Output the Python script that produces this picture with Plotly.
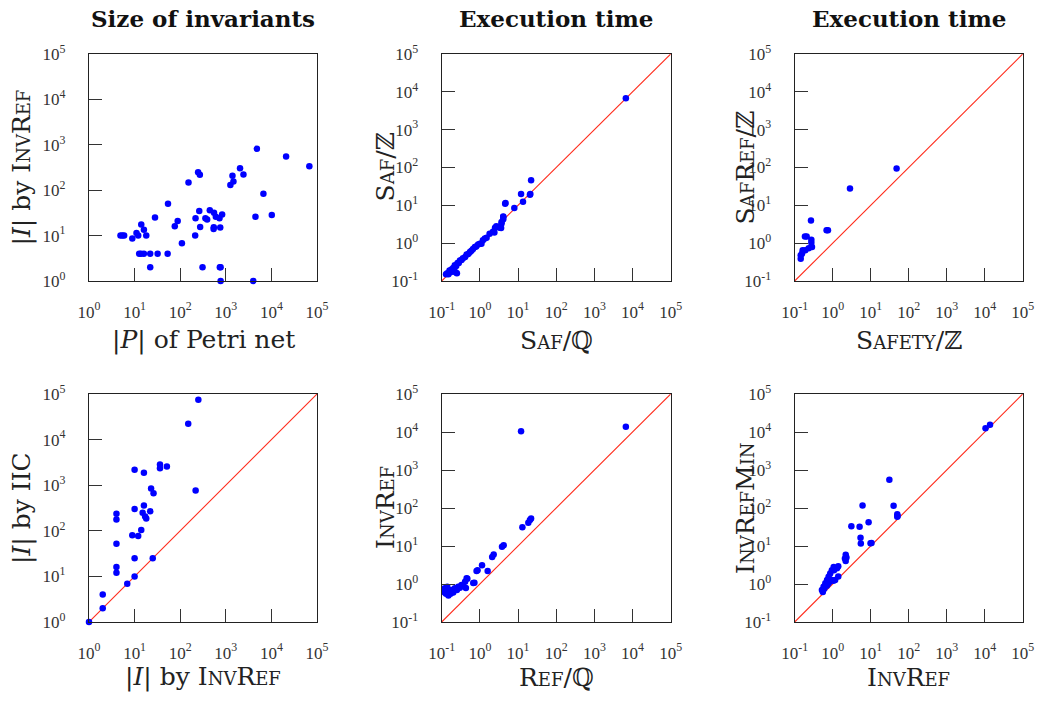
import plotly.graph_objects as go

W, H = 1041, 702

# ---------------- data ----------------
p1_x = [4.9, 5.4, 5.9, 8.9, 11, 12, 14, 16, 18, 28, 54, 76, 88, 109, 152, 247, 270, 217, 213, 262,
        274, 357, 390, 446, 552, 545, 540, 604, 727, 830, 755, 1260, 1400, 1470, 2050, 2440, 4800,
        6680, 4470, 10200, 21000, 68000, 12.6, 13.8, 16, 22, 32, 53, 22, 309, 740, 770, 770, 4000]
p1_y = [10, 10, 10, 8.6, 11.4, 10, 17.5, 13.5, 10, 25, 50, 16, 21, 6.8, 148, 250, 218, 24, 10, 35,
        15.5, 24, 22.6, 36, 32, 15.3, 14, 26, 24, 29, 15, 131, 208, 156, 305, 223, 815,
        83, 26, 28.6, 553, 339, 4, 4, 4, 4, 4, 4, 2, 2, 2, 2, 1, 1]

p2_x = [6680, 22, 21, 20.5, 12, 13.5, 8, 4.7, 4.1, 4.1, 3.7, 3.6, 2.7, 2.4, 2.2, 1.5, 1.1,
        0.13, 0.14, 0.15, 0.16, 0.17, 0.18, 0.2, 0.21, 0.22, 0.24, 0.26, 0.28, 0.3, 0.33, 0.36,
        0.41, 0.45, 0.5, 0.55, 0.6, 0.66, 0.74, 0.8, 0.9, 1.0, 1.2, 1.35, 1.8, 2.5, 3.3, 3.7,
        4.1, 4.6, 0.25, 0.23]
p2_y = [6800, 46, 20, 19, 20, 12.4, 8.5, 11.5, 5.1, 4.3, 3.6, 2.5, 2.8, 1.9, 2.0, 1.4, 0.97,
        0.15, 0.16, 0.15, 0.19, 0.17, 0.2, 0.22, 0.19, 0.26, 0.25, 0.3, 0.3, 0.35, 0.36, 0.4,
        0.43, 0.5, 0.52, 0.58, 0.63, 0.7, 0.79, 0.82, 0.92, 0.97, 1.2, 1.32, 1.78, 2.57, 2.57, 3.3,
        4.9, 11, 0.16, 0.17]

p3_x = [48, 2.85, 0.75, 0.69, 0.268, 0.206, 0.186, 0.274, 0.274, 0.285, 0.233, 0.19, 0.162,
        0.144, 0.144, 0.156]
p3_y = [94, 28, 2.18, 2.18, 3.98, 1.51, 1.51, 1.24, 1.03, 0.79, 0.73, 0.645, 0.645,
        0.476, 0.39, 0.53]

p4_x = [1, 2, 2, 4, 4, 4, 4, 4, 6.9, 10, 10, 8.9, 12, 14, 10, 10, 15, 16, 17, 18, 22, 23, 26,
        25, 16, 36, 36, 51, 150, 250, 218]
p4_y = [1, 2, 4, 12, 16, 52, 178, 237, 6.9, 10, 25, 80, 77, 104, 300, 2180, 250, 360, 205, 187,
        270, 850, 670, 25, 1870, 2360, 2830, 2570, 22300, 74600, 763]

p5_x = [6680, 12, 22, 20.5, 18.6, 13, 4.2, 3.8, 2.3, 2.1, 1.6, 1.14, 0.87, 0.82, 0.72, 0.47,
        0.43, 0.45, 0.41, 0.67, 0.33, 0.27, 0.22, 0.18, 0.15, 0.12, 0.13, 0.15, 0.17, 0.12, 0.2,
        0.25, 0.3, 0.36, 0.14]
p5_y = [13800, 10500, 53, 48, 41, 31, 10.5, 9.5, 6, 5.1, 2.2, 3.1, 2.3, 2.2, 1.08, 1.37,
        0.78, 1.41, 1.15, 1.07, 0.94, 0.85, 0.77, 0.69, 0.63, 0.77, 0.55, 0.5, 0.55, 0.6, 0.6,
        0.7, 0.8, 0.9, 0.85]

p6_x = [13800, 10500, 31, 6.1, 40, 50, 50, 51, 8.8, 3.1, 5.1, 5.4, 5.5, 9.9, 10.5, 2.2, 2.3, 2.2,
        1.4, 1.4, 1.08, 1.04, 0.52, 0.55, 0.575, 0.64, 0.71, 0.78, 0.86, 0.95, 1.06, 1.3, 1.16,
        2.1, 0.6, 0.7, 0.8, 0.9, 0.75, 0.85]
p6_y = [15600, 12600, 550, 117, 114, 68, 59, 62, 42, 33, 32, 16.6, 11.7, 11.9, 12, 5.9, 5, 4,
        2.95, 1.58, 2.3, 1.22, 0.69, 0.62, 0.85, 1.04, 1.27, 1.55, 1.9, 2.3, 2.8, 2.6, 1.27,
        4.7, 0.75, 0.9, 1.1, 1.3, 1.0, 1.2]

range_a = [0, 5]    # log10 range, panels 1 and 4
range_b = [-1, 5]   # log10 range, other panels

titles = ["Size of invariants", "Execution time", "Execution time"]


def sc(s, size=18):
    return '<span style="font-size:%dpx">%s</span>' % (size, s)


xlabels = ['|<i>P</i>| of Petri net', 'S' + sc('AF') + '/ℚ', 'S' + sc('AFETY') + '/ℤ',
           '|<i>I</i>| by I' + sc('NV') + 'R' + sc('EF'), 'R' + sc('EF') + '/ℚ',
           'I' + sc('NV') + 'R' + sc('EF')]
ylabels = ['|<i>I</i>| by I' + sc('NV') + 'R' + sc('EF'), 'S' + sc('AF') + '/ℤ',
           'S' + sc('AF') + 'R' + sc('EF') + '/ℤ', '|<i>I</i>| by IIC',
           'I' + sc('NV') + 'R' + sc('EF'),
           'I' + sc('NV') + 'R' + sc('EF') + 'M' + sc('IN')]

panels = [(p1_x, p1_y, range_a, False), (p2_x, p2_y, range_b, True), (p3_x, p3_y, range_b, True),
          (p4_x, p4_y, range_a, True), (p5_x, p5_y, range_b, True), (p6_x, p6_y, range_b, True)]

# ---------------- layout geometry (pixels) ----------------
col_px = [(89, 317), (441.7, 670.7), (794.7, 1022.7)]
row_px = [(54, 281), (394, 622)]
ylab_x = [22, 385, 745]
xlab_y = [340, 677]
title_y = 18


def px(v):
    return v / W


def py(v):
    return 1 - v / H


fig = go.Figure()
layout = dict(width=W, height=H, margin=dict(l=0, r=0, t=0, b=0, autoexpand=False),
              paper_bgcolor="white", plot_bgcolor="white", showlegend=False)

TICKFONT = dict(family="Liberation Serif", size=17, color="#333")
LABFONT = dict(family="DejaVu Serif", size=25, color="#222")

annotations = []
for i, (xs, ys, rng, diag) in enumerate(panels):
    r, c = divmod(i, 3)
    n = i + 1
    xa = "x" if n == 1 else "x%d" % n
    ya = "y" if n == 1 else "y%d" % n
    x0, x1 = col_px[c]
    y0, y1 = row_px[r]
    exps = list(range(rng[0], rng[1] + 1))
    tv = [10 ** e for e in exps]
    tt = ["10<sup>%d</sup>" % e for e in exps]
    common = dict(type="log", range=rng, tickvals=tv, ticktext=tt, ticks="inside", ticklen=13,
                  tickwidth=1.2, tickcolor="#333", showline=True, linecolor="#222", linewidth=1.4,
                  mirror=True, showgrid=False, zeroline=False, tickfont=TICKFONT,
                  automargin=False)
    layout["xaxis" if n == 1 else "xaxis%d" % n] = dict(
        domain=[px(x0), px(x1)], anchor=ya, ticklabelstandoff=15, **common)
    layout["yaxis" if n == 1 else "yaxis%d" % n] = dict(
        domain=[py(y1), py(y0)], anchor=xa, ticklabelstandoff=19, **common)
    if diag:
        d = [10 ** rng[0], 10 ** rng[1]]
        fig.add_trace(go.Scatter(x=d, y=d, mode="lines", xaxis=xa, yaxis=ya,
                                 line=dict(color="#ff2a1a", width=1.1), hoverinfo="skip"))
    fig.add_trace(go.Scatter(x=xs, y=ys, mode="markers", xaxis=xa, yaxis=ya, cliponaxis=False,
                             marker=dict(color="#0000ff", size=6.5, line=dict(width=0))))
    cx = (x0 + x1) / 2
    annotations.append(dict(text=xlabels[i], x=px(cx), y=py(xlab_y[r]), xref="paper",
                            yref="paper", showarrow=False, font=LABFONT,
                            xanchor="center", yanchor="middle"))
    annotations.append(dict(text=ylabels[i], x=px(ylab_x[c]), y=py((y0 + y1) / 2),
                            xref="paper", yref="paper", showarrow=False, font=LABFONT,
                            textangle=-90, xanchor="center", yanchor="middle"))
    if r == 0:
        annotations.append(dict(text="<b>%s</b>" % titles[c], x=px(cx), y=py(title_y),
                                xref="paper", yref="paper", showarrow=False, borderpad=0,
                                font=dict(family="DejaVu Serif", size=23, color="#111"),
                                xanchor="center", yanchor="middle"))

layout["annotations"] = annotations
fig.update_layout(**layout)
# remove the browser's default page margin so the figure fills the window exactly
fig.write_html("out.html", config={"displayModeBar": False},
               post_script="document.body.style.margin='0px';")
